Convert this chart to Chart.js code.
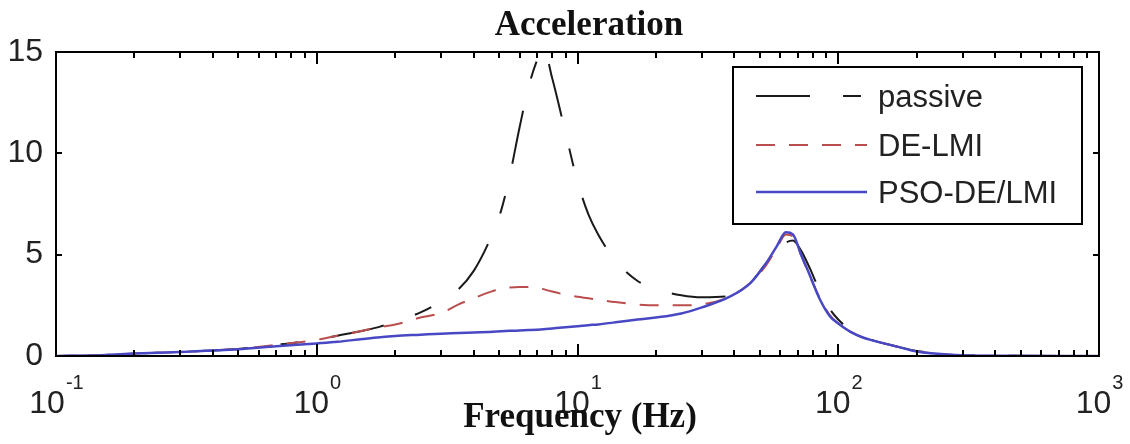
<!DOCTYPE html>
<html>
<head>
<meta charset="utf-8">
<script src="https://cdn.jsdelivr.net/npm/chart.js@4/dist/chart.umd.min.js"></script>
<style>
  html, body { margin: 0; padding: 0; background: #fff; }
  #wrap { width: 1130px; height: 444px; }
</style>
</head>
<body>
<div id="wrap"><canvas id="c" width="1130" height="444"></canvas></div>
<script>
// Frequency grid (Hz) shared by all three responses
const freqHz = [0.1, 0.15, 0.2, 0.3, 0.5, 0.7, 1, 1.2, 1.5, 1.75, 2, 2.5, 3, 3.5, 4, 4.6, 5.1, 5.5, 6, 6.5, 7, 7.4, 8, 9, 10, 11, 12, 14, 17, 20, 25, 30, 38, 46, 53, 58, 63, 67, 72, 78, 85, 93, 100, 111, 125, 140, 170, 200, 280, 400, 1000];

// Acceleration magnitude of each suspension design
const passive  = [0, 0.04, 0.12, 0.2, 0.35, 0.55, 0.8, 1.0, 1.25, 1.45, 1.7, 2.15, 2.7, 3.3, 4.2, 5.7, 7.2, 8.9, 11.3, 13.3, 14.6, 15.2, 13.7, 11.0, 8.6, 7.0, 6.0, 4.7, 3.7, 3.3, 3.0, 2.9, 2.95, 3.6, 4.6, 5.2, 5.6, 5.7, 5.2, 4.3, 3.2, 2.3, 1.8, 1.3, 0.95, 0.72, 0.45, 0.25, 0.06, 0.01, 0];
const deLmi    = [0, 0.04, 0.12, 0.2, 0.35, 0.55, 0.8, 1.0, 1.25, 1.43, 1.55, 1.9, 2.12, 2.55, 2.85, 3.15, 3.33, 3.38, 3.4, 3.4, 3.4, 3.3, 3.18, 3.02, 2.92, 2.85, 2.78, 2.66, 2.54, 2.5, 2.5, 2.55, 2.9, 3.6, 4.5, 5.3, 6.0, 5.9, 5.0, 3.9, 2.85, 2.0, 1.6, 1.2, 0.9, 0.72, 0.45, 0.23, 0.05, 0.01, 0];
const psoDeLmi = [0, 0.04, 0.12, 0.2, 0.33, 0.48, 0.62, 0.7, 0.84, 0.93, 0.99, 1.05, 1.1, 1.13, 1.16, 1.19, 1.22, 1.24, 1.26, 1.28, 1.3, 1.32, 1.36, 1.42, 1.47, 1.52, 1.56, 1.66, 1.8, 1.9, 2.1, 2.4, 2.9, 3.6, 4.6, 5.4, 6.1, 6.0, 5.0, 3.95, 2.8, 1.95, 1.6, 1.2, 0.9, 0.72, 0.45, 0.22, 0.05, 0.01, 0];

const seriesNames = ['passive', 'DE-LMI', 'PSO-DE/LMI'];
const xTickExponents = [-1, 0, 1, 2, 3];
const yTickValues = [0, 5, 10, 15];
const titleText = 'Acceleration';
const xAxisLabel = 'Frequency (Hz)';

const toPoints = vals => freqHz.map((f, i) => ({ x: f, y: vals[i] }));

const styles = [
  { color: '#1a1a1a', dash: [54, 33, 18, 33], width: 2 },
  { color: 'rgb(186,78,78)', dash: [19, 14], width: 2 },
  { color: 'rgb(72,72,196)', dash: [], width: 2.5 }
];
const seriesValues = [passive, deLmi, psoDeLmi];

const TEXT = '#222';
const SANS = '"Liberation Sans", Arial, sans-serif';
const SERIF = '"Liberation Serif", "Times New Roman", serif';

// Box frame, inward ticks, power-of-ten labels, title, axis label and legend
const axisDecor = {
  id: 'axisDecor',
  afterDatasetsDraw(chart) {
    const { ctx, chartArea: a, scales: { x, y } } = chart;
    ctx.save();
    ctx.strokeStyle = '#000';
    ctx.lineWidth = 2;
    ctx.strokeRect(a.left, a.top, a.right - a.left, a.bottom - a.top);

    ctx.beginPath();
    const first = xTickExponents[0], last = xTickExponents[xTickExponents.length - 1];
    for (let e = first; e <= last; e++) {
      for (let m = 1; m <= 9; m++) {
        if (e === last && m > 1) break;
        const px = Math.round(x.getPixelForValue(m * Math.pow(10, e)));
        const len = m === 1 ? 12 : 6;
        ctx.moveTo(px, a.bottom); ctx.lineTo(px, a.bottom - len);
        ctx.moveTo(px, a.top); ctx.lineTo(px, a.top + len);
      }
    }
    yTickValues.forEach(v => {
      const py = Math.round(y.getPixelForValue(v));
      ctx.moveTo(a.left, py); ctx.lineTo(a.left + 6, py);
      ctx.moveTo(a.right, py); ctx.lineTo(a.right - 6, py);
    });
    ctx.stroke();

    // x tick labels as 10 with a raised exponent
    ctx.fillStyle = TEXT;
    ctx.textBaseline = 'alphabetic';
    ctx.textAlign = 'left';
    xTickExponents.forEach(e => {
      const px = x.getPixelForValue(Math.pow(10, e));
      ctx.font = '32px ' + SANS;
      const wb = ctx.measureText('10').width;
      ctx.font = '20px ' + SANS;
      const we = ctx.measureText(String(e)).width;
      const start = px - (wb + we) / 2;
      ctx.font = '32px ' + SANS;
      ctx.fillText('10', start, 413);
      ctx.font = '20px ' + SANS;
      ctx.fillText(String(e), start + wb + 1, 389);
    });

    ctx.textAlign = 'center';
    ctx.font = 'bold 35px ' + SERIF;
    ctx.fillStyle = '#111';
    ctx.fillText(titleText, 589, 35);
    ctx.fillText(xAxisLabel, 580, 427);
    ctx.restore();
  },
  afterDraw(chart) {
    const { ctx } = chart;
    ctx.save();
    ctx.fillStyle = '#fff';
    ctx.fillRect(733, 67, 349, 157);
    ctx.strokeStyle = '#000';
    ctx.lineWidth = 2;
    ctx.strokeRect(733, 67, 349, 157);
    const rows = [96, 145, 192];
    chart.data.datasets.forEach((ds, i) => {
      ctx.beginPath();
      ctx.strokeStyle = ds.borderColor;
      ctx.lineWidth = ds.borderWidth;
      ctx.setLineDash(ds.borderDash || []);
      ctx.moveTo(756, rows[i]);
      ctx.lineTo(867, rows[i]);
      ctx.stroke();
      ctx.setLineDash([]);
      ctx.fillStyle = TEXT;
      ctx.font = '31px ' + SANS;
      ctx.textAlign = 'left';
      ctx.textBaseline = 'alphabetic';
      ctx.fillText(ds.label, 878, rows[i] + 11);
    });
    ctx.restore();
  }
};

new Chart(document.getElementById('c'), {
  type: 'line',
  data: {
    datasets: seriesNames.map((name, i) => ({
      label: name,
      data: toPoints(seriesValues[i]),
      borderColor: styles[i].color,
      borderWidth: styles[i].width,
      borderDash: styles[i].dash,
      pointRadius: 0,
      fill: false,
      cubicInterpolationMode: 'monotone',
      order: 2 - i
    }))
  },
  options: {
    responsive: false,
    animation: false,
    devicePixelRatio: 1,
    layout: { padding: { top: 52, right: 31, bottom: 0, left: 0 } },
    plugins: {
      legend: { display: false },
      title: { display: false },
      tooltip: { enabled: false }
    },
    scales: {
      x: {
        type: 'logarithmic',
        min: 0.1,
        max: 1000,
        ticks: { display: false },
        grid: { display: false, drawTicks: false },
        border: { display: false },
        afterFit(s) { s.height = 88; }
      },
      y: {
        min: 0,
        max: 15,
        ticks: { stepSize: 5, padding: 13, color: TEXT, font: { family: SANS, size: 32 } },
        grid: { display: false, drawTicks: false },
        border: { display: false },
        afterFit(s) { s.width = 56; }
      }
    }
  },
  plugins: [axisDecor]
});
</script>
</body>
</html>
